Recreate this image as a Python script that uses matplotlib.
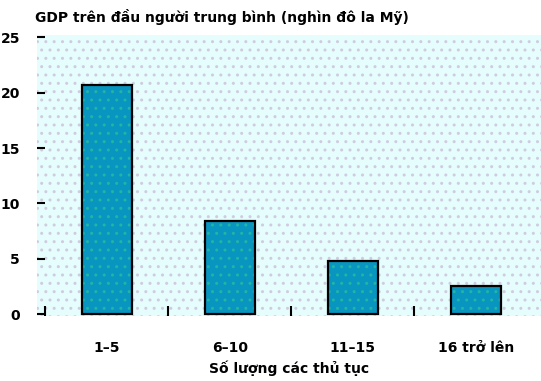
import matplotlib.pyplot as plt
import numpy as np

# GDP per capita by number of procedures
groups = ["1–5", "6–10", "11–15", "16 trở lên"]
gdp = [20.7, 8.4, 4.8, 2.5]
yticks = [0, 5, 10, 15, 20, 25]

plt.rcParams['font.family'] = ['DejaVu Sans']
plt.rcParams['hatch.linewidth'] = 1.0

fig = plt.figure(figsize=(5.41, 3.81), dpi=100)
ax = fig.add_axes([0.068, 0.171, 0.932, 0.737])

ax.patch.set_facecolor('#e6fdfd')
ax.patch.set_hatch('..')
ax.patch.set_edgecolor('#d0cce0')

x = np.arange(len(groups))
# fill with dotted texture, then a black outline on top
ax.bar(x, gdp, width=0.41, color='#0896c0', edgecolor='#22b4a4',
       linewidth=0, hatch='..', zorder=2)
ax.bar(x, gdp, width=0.41, fill=False, edgecolor='black',
       linewidth=1.6, zorder=3)

ax.set_xlim(-0.57, 3.53)
ax.set_ylim(-0.15, 25.2)

for s in ax.spines.values():
    s.set_visible(False)

ax.set_yticks(yticks)
ax.set_yticklabels([str(v) for v in yticks], fontweight='bold', fontsize=10)
ax.tick_params(axis='y', direction='in', length=6, width=1.5, pad=12)

ax.set_xticks(x)
ax.set_xticklabels(groups, fontweight='bold', fontsize=10)
ax.set_xticks(np.arange(-0.5, 3.0, 1.0), minor=True)
ax.tick_params(axis='x', which='major', length=0, pad=18)
ax.tick_params(axis='x', which='minor', direction='in', length=7, width=1.5)

ax.set_xlabel("Số lượng các thủ tục", fontweight='bold', fontsize=10, labelpad=4)
fig.text(0.065, 0.955, "GDP trên đầu người trung bình (nghìn đô la Mỹ)",
         fontweight='bold', fontsize=10, va='center')

fig.savefig('out.png', dpi=100)
